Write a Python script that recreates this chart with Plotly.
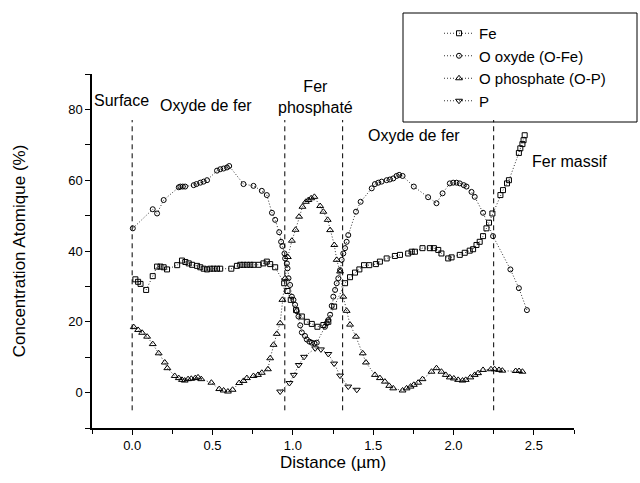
import plotly.graph_objects as go

# ---------------- data ----------------
fe_x = [0.02, 0.037, 0.052, 0.087, 0.128, 0.155, 0.176, 0.196, 0.217, 0.28, 0.31, 0.331, 0.352, 0.373,
        0.404, 0.424, 0.445, 0.466, 0.486, 0.507, 0.528, 0.548, 0.617, 0.652, 0.673, 0.693, 0.714, 0.735,
        0.755, 0.787, 0.817, 0.838, 0.859, 0.89, 0.946, 0.967, 0.987, 1.02, 1.056, 1.087, 1.118, 1.153,
        1.19, 1.221, 1.257, 1.325, 1.356, 1.387, 1.414, 1.443, 1.476, 1.517, 1.542, 1.584, 1.635, 1.667,
        1.718, 1.74, 1.76, 1.807, 1.853, 1.878, 1.905, 1.925, 1.967, 1.988, 2.039, 2.07, 2.101, 2.122,
        2.143, 2.163, 2.184, 2.205, 2.221, 2.242, 2.292, 2.308, 2.333, 2.345, 2.407, 2.416, 2.429, 2.436, 2.443]
fe_y = [32.0, 31.3, 30.7, 29.0, 32.9, 35.6, 35.6, 35.4, 34.8, 36.0, 37.3, 36.9, 36.5, 36.1,
        35.8, 35.4, 35.0, 34.8, 35.0, 35.0, 35.0, 35.0, 35.0, 35.8, 36.1, 36.1, 36.1, 36.1,
        36.1, 36.1, 36.5, 37.0, 36.3, 35.4, 30.9, 28.7, 26.2, 23.3, 21.5, 20.0, 19.4, 18.6,
        19.1, 20.0, 24.3, 30.9, 32.6, 33.9, 34.8, 36.0, 36.0, 36.3, 37.0, 37.9, 38.6, 38.9,
        39.3, 39.8, 39.8, 40.8, 40.8, 40.8, 40.3, 39.3, 37.9, 38.2, 38.9, 39.5, 40.1, 40.5,
        41.7, 42.6, 44.2, 46.4, 48.0, 50.6, 55.8, 57.2, 59.1, 60.0, 67.7, 69.0, 70.2, 71.3, 72.7]

ox_x = [0.004, 0.128, 0.155, 0.196, 0.29, 0.30, 0.315, 0.33, 0.383, 0.40, 0.424, 0.445, 0.466, 0.528,
        0.548, 0.569, 0.59, 0.604, 0.693, 0.755, 0.807, 0.838, 0.87, 0.89, 0.915, 0.927, 0.935, 0.948,
        0.952, 0.963, 0.967, 0.973, 0.983, 0.994, 1.004, 1.014, 1.025, 1.035, 1.046, 1.056, 1.076, 1.087,
        1.103, 1.118, 1.135, 1.149, 1.2, 1.211, 1.221, 1.232, 1.242, 1.252, 1.263, 1.273, 1.283, 1.294,
        1.304, 1.314, 1.325, 1.335, 1.345, 1.393, 1.422, 1.491, 1.511, 1.532, 1.553, 1.584, 1.604, 1.625,
        1.646, 1.662, 1.683, 1.753, 1.842, 1.894, 1.932, 1.977, 1.998, 2.019, 2.039, 2.064, 2.081, 2.112,
        2.132, 2.184, 2.246, 2.354, 2.407, 2.457]
ox_y = [46.4, 51.8, 50.6, 54.4, 58.0, 58.2, 58.2, 58.2, 58.6, 58.9, 59.3, 59.6, 60.0, 62.7,
        63.1, 63.3, 63.6, 64.0, 58.9, 58.4, 57.0, 55.8, 50.8, 48.8, 45.3, 42.6, 41.4, 39.3,
        37.9, 36.5, 35.1, 32.3, 30.4, 27.1, 26.2, 24.8, 23.0, 21.5, 19.0, 17.0, 16.0, 15.0,
        14.4, 14.1, 13.9, 14.1, 18.6, 19.6, 20.5, 22.0, 24.5, 27.1, 29.0, 30.9, 32.3, 34.6,
        37.5, 39.3, 40.8, 42.6, 44.5, 51.1, 53.9, 57.7, 58.9, 59.3, 59.6, 60.0, 60.2, 60.5,
        61.2, 61.5, 61.2, 58.2, 55.2, 53.5, 56.3, 59.1, 59.3, 59.3, 59.1, 58.6, 58.2, 56.7,
        55.3, 50.8, 44.2, 34.8, 29.5, 23.3]

op_x = [0.01, 0.037, 0.062, 0.093, 0.128, 0.165, 0.203, 0.219, 0.265, 0.29, 0.31, 0.327, 0.348, 0.368,
        0.393, 0.41, 0.43, 0.493, 0.542, 0.569, 0.596, 0.625, 0.666, 0.693, 0.714, 0.755, 0.783, 0.807,
        0.845, 0.859, 0.88, 0.90, 0.921, 0.935, 0.952, 0.969, 0.994, 1.017, 1.039, 1.06, 1.081, 1.097,
        1.114, 1.134, 1.17, 1.19, 1.217, 1.232, 1.258, 1.273, 1.294, 1.314, 1.335, 1.356, 1.393, 1.435,
        1.455, 1.511, 1.542, 1.573, 1.6, 1.625, 1.683, 1.708, 1.733, 1.753, 1.78, 1.807, 1.863, 1.894,
        1.925, 1.952, 1.977, 2.002, 2.029, 2.056, 2.076, 2.105, 2.132, 2.153, 2.184, 2.233, 2.256, 2.283,
        2.304, 2.387, 2.408, 2.429]
op_y = [18.5, 17.7, 16.9, 15.8, 13.7, 11.1, 8.5, 6.9, 4.7, 4.1, 3.6, 3.4, 3.8, 3.9,
        4.1, 4.3, 3.8, 2.8, 1.0, 0.6, 0.3, 0.8, 2.7, 3.3, 4.1, 4.7, 5.0, 5.6,
        6.6, 9.7, 13.5, 16.6, 19.6, 26.2, 32.3, 38.3, 42.9, 46.0, 49.7, 52.5, 53.9, 54.4,
        54.9, 55.3, 52.7, 51.1, 48.8, 45.9, 41.7, 37.5, 34.2, 27.1, 23.1, 19.2, 15.8, 11.1,
        8.5, 5.0, 4.1, 3.1, 1.9, 1.2, 0.6, 1.2, 1.7, 2.2, 2.8, 3.8, 5.9, 6.9,
        5.9, 5.0, 4.3, 4.0, 3.6, 3.4, 3.6, 4.3, 5.0, 5.5, 6.4, 6.6, 6.6, 6.4,
        6.2, 6.1, 6.1, 5.9]

p_x = [0.921, 0.979, 1.006, 1.037, 1.07, 1.139, 1.175, 1.221, 1.257, 1.294, 1.345, 1.398]
p_y = [0.3, 2.7, 5.0, 7.8, 10.1, 12.5, 12.2, 10.9, 8.2, 4.8, 1.7, 0.8]

series_names = ["Fe", "O oxyde (O-Fe)", "O phosphate (O-P)", "P"]

boundary_x = [0.0, 0.95, 1.31, 2.25]
boundary_y = [-5, 77]

region_labels = ["Surface", "Oxyde de fer", "Fer<br>phosphaté", "Oxyde de fer", "Fer massif"]
region_label_x = [-0.066, 0.461, 1.143, 1.754, 2.72]
region_label_y = [82.6, 81.2, 83.5, 72.5, 65.2]

# ---------------- figure ----------------
FONT = "Arial, Liberation Sans, sans-serif"
fig = go.Figure()

symbols = ["square-open", "circle-open", "triangle-up-open", "triangle-down-open"]
sizes = [5, 5, 6, 6]
for xs, ys, name, sym, sz in zip([fe_x, ox_x, op_x, p_x], [fe_y, ox_y, op_y, p_y],
                                 series_names, symbols, sizes):
    fig.add_trace(go.Scatter(
        x=xs, y=ys, name=name, mode="lines+markers",
        line=dict(color="#333333", width=1, dash="1px,2px"),
        marker=dict(symbol=sym, size=sz, color="black", line=dict(width=1, color="black")),
    ))

for bx in boundary_x:
    fig.add_shape(type="line", xref="x", yref="y", x0=bx, x1=bx,
                  y0=boundary_y[0], y1=boundary_y[1],
                  line=dict(color="black", width=1, dash="5px,4px"))

for t, ax_, ay_ in zip(region_labels, region_label_x, region_label_y):
    fig.add_annotation(x=ax_, y=ay_, xref="x", yref="y", text=t, showarrow=False,
                       font=dict(family=FONT, size=16, color="black"), align="center")

# legend frame
fig.add_shape(type="rect", xref="paper", yref="paper",
              x0=(403 - 92) / 482, x1=(637 - 92) / 482,
              y0=(428 - 122) / 354, y1=(428 - 13) / 354,
              line=dict(color="black", width=1), fillcolor="white", layer="below")

fig.update_layout(
    width=640, height=483,
    margin=dict(l=92, r=66, t=74, b=55, autoexpand=False),
    paper_bgcolor="white", plot_bgcolor="white",
    font=dict(family=FONT, color="black", size=13),
    showlegend=True,
    legend=dict(x=(439 - 92) / 482, y=(428 - 17) / 354, xanchor="left", yanchor="top",
                bgcolor="rgba(0,0,0,0)", borderwidth=0,
                font=dict(family=FONT, size=15, color="black"), itemwidth=30),
    xaxis=dict(range=[-0.25, 2.75], showgrid=False, zeroline=False, automargin=False,
               showline=True, linecolor="black", linewidth=1.5,
               ticks="outside", ticklen=5, tickwidth=1, tickcolor="black",
               tick0=0, dtick=0.5, tickformat=".1f",
               minor=dict(ticks="outside", ticklen=4, dtick=0.25, tick0=0, tickcolor="black"),
               tickfont=dict(size=13),
               title=dict(text="Distance (µm)", font=dict(size=17), standoff=3)),
    yaxis=dict(range=[-10, 90], showgrid=False, zeroline=False, automargin=False,
               showline=True, linecolor="black", linewidth=1.5,
               ticks="outside", ticklen=5, tickwidth=1, tickcolor="black",
               tick0=0, dtick=20,
               minor=dict(ticks="outside", ticklen=5, dtick=10, tick0=0, tickcolor="black"),
               tickfont=dict(size=13),
               title=dict(text="Concentration Atomique (%)", font=dict(size=17), standoff=38)),
)

fig.write_html("out.html", config={"displayModeBar": False},
               post_script="document.body.style.margin='0';document.body.style.overflow='hidden';")
